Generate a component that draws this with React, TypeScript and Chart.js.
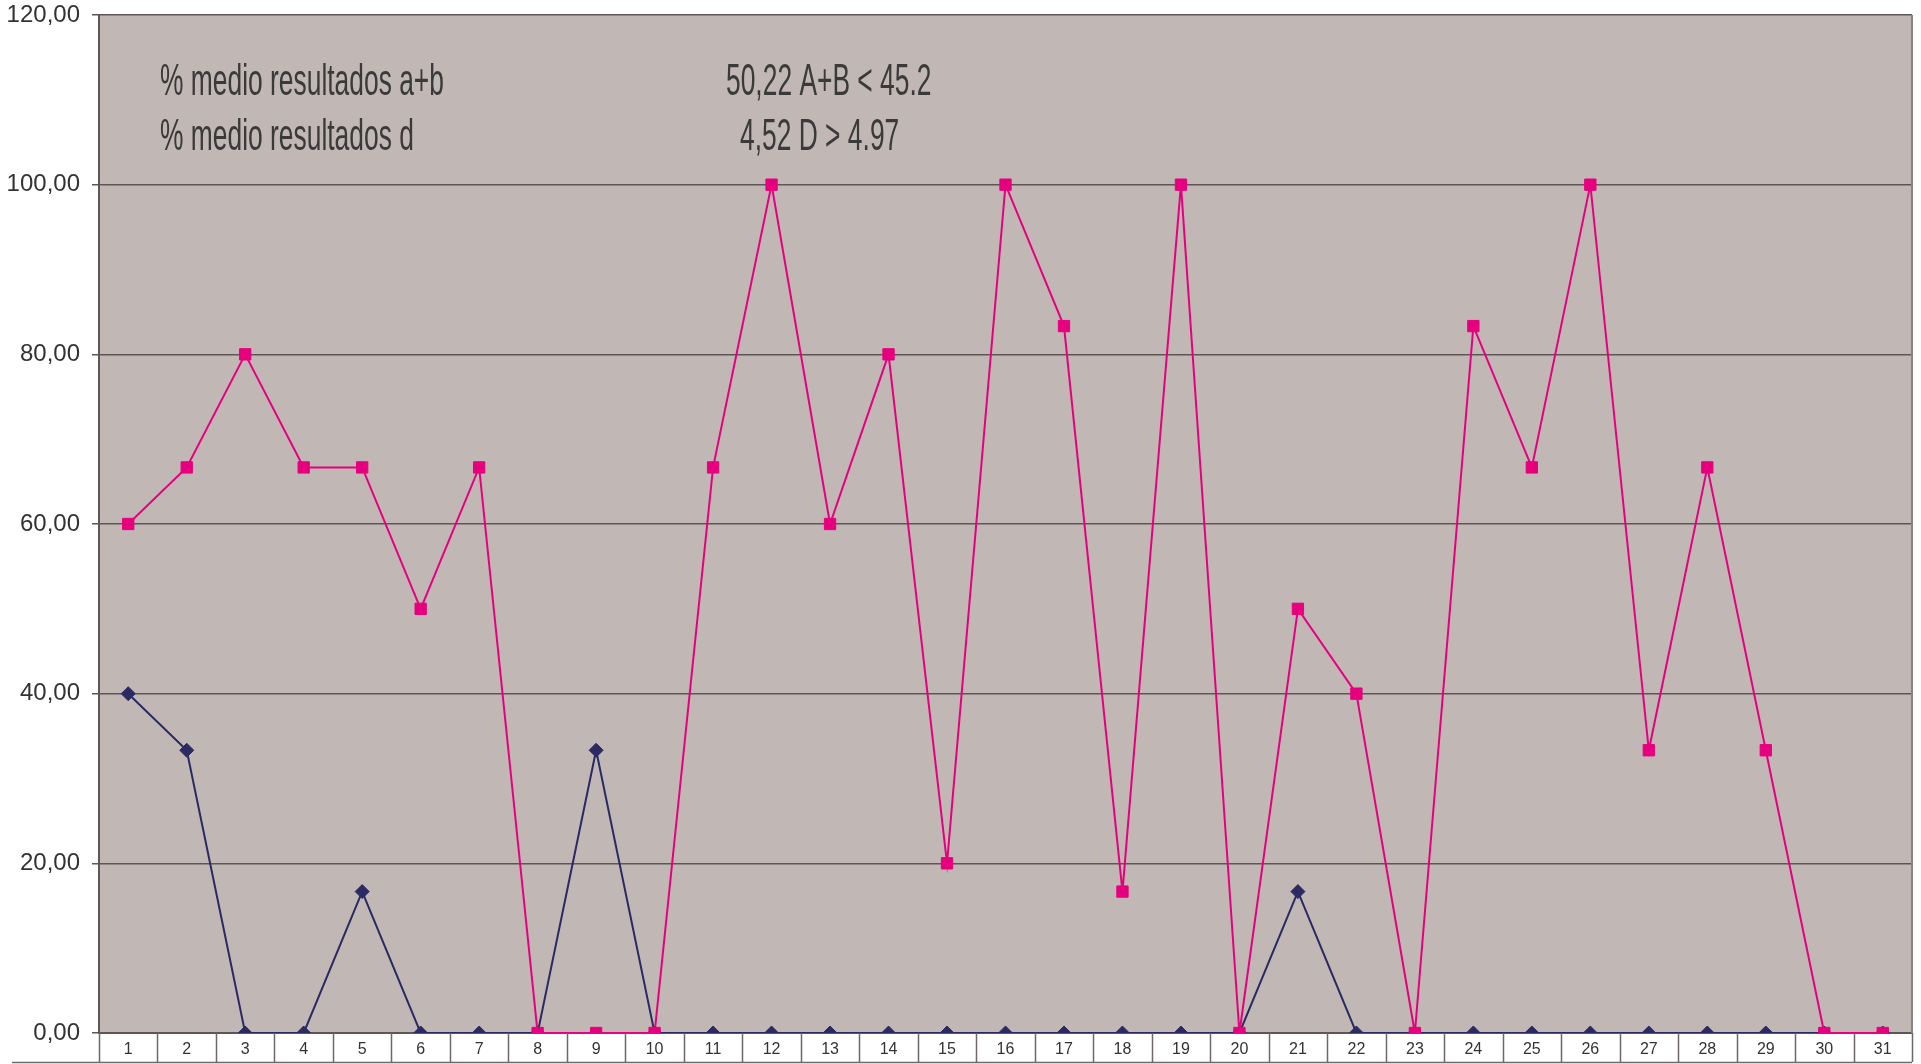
import React, { useEffect, useRef } from "react";
import { Chart, registerables } from "chart.js";

Chart.register(...registerables);

const categories = Array.from({ length: 31 }, (_, i) => String(i + 1));
const seriesAB = [60, 66.67, 80, 66.67, 66.67, 50, 66.67, 0, 0, 0, 66.67, 100, 60, 80, 20, 100, 83.33, 16.67, 100, 0, 50, 40, 0, 83.33, 66.67, 100, 33.33, 66.67, 33.33, 0, 0];
const seriesD = [40, 33.33, 0, 0, 16.67, 0, 0, 0, 33.33, 0, 0, 0, 0, 0, 0, 0, 0, 0, 0, 0, 16.67, 0, 0, 0, 0, 0, 0, 0, 0, 0, 0];
const annotLabels = ["% medio resultados a+b", "% medio resultados d"];
const annotValues = ["50,22 A+B < 45.2", "4,52 D > 4.97"];

const PLOT_BG = "#c1b8b5";
const GRID = "#5e5656";

const decorPlugin = {
  id: "decor",
  beforeDraw(chart: any) {
    const { ctx, chartArea } = chart;
    ctx.save();
    ctx.fillStyle = PLOT_BG;
    ctx.fillRect(chartArea.left, chartArea.top, chartArea.right - chartArea.left, chartArea.bottom - chartArea.top);
    ctx.restore();
  },
  afterDraw(chart: any) {
    const { ctx, chartArea } = chart;
    const xs = chart.scales.x;
    const tableBottom = 1062;
    ctx.save();
    ctx.strokeStyle = "#8c8282";
    ctx.lineWidth = 2;
    ctx.beginPath();
    ctx.moveTo(chartArea.right, chartArea.top);
    ctx.lineTo(chartArea.right, chartArea.bottom);
    ctx.stroke();
    ctx.strokeStyle = "#6e6868";
    ctx.lineWidth = 1.5;
    const n = categories.length;
    const w = xs.getPixelForValue(1) - xs.getPixelForValue(0);
    ctx.beginPath();
    for (let i = 0; i <= n; i++) {
      const x = xs.getPixelForValue(0) - w / 2 + i * w;
      ctx.moveTo(Math.round(x) + 0.5, chartArea.bottom);
      ctx.lineTo(Math.round(x) + 0.5, tableBottom);
    }
    ctx.moveTo(12, tableBottom + 0.5);
    ctx.lineTo(chartArea.right, tableBottom + 0.5);
    ctx.stroke();
    ctx.fillStyle = "#3a3a3a";
    ctx.font = "44px 'Liberation Sans', Arial, sans-serif";
    ctx.textBaseline = "alphabetic";
    const sx = 0.6;
    const rows = [95, 150];
    const lx = [160, 160];
    const vx = [726, 740];
    for (let r = 0; r < 2; r++) {
      ctx.save();
      ctx.translate(lx[r], rows[r]);
      ctx.scale(sx, 1);
      ctx.fillText(annotLabels[r], 0, 0);
      ctx.restore();
      ctx.save();
      ctx.translate(vx[r], rows[r]);
      ctx.scale(sx, 1);
      ctx.fillText(annotValues[r], 0, 0);
      ctx.restore();
    }
    ctx.restore();
  },
};

export default function App() {
  const ref = useRef<HTMLCanvasElement | null>(null);
  useEffect(() => {
    if (!ref.current) return;
    const chart = new Chart(ref.current, {
      type: "line",
      data: {
        labels: categories,
        datasets: [
          {
            label: "d",
            data: seriesD,
            borderColor: "#2b2a63",
            backgroundColor: "#2b2a63",
            borderWidth: 2,
            pointStyle: "rectRot",
            pointRadius: 7,
            pointBorderWidth: 1,
            tension: 0,
            order: 2,
          },
          {
            label: "a+b",
            data: seriesAB,
            borderColor: "#e6007e",
            backgroundColor: "#e6007e",
            borderWidth: 2,
            pointStyle: "rect",
            pointRadius: 8,
            pointBorderWidth: 1,
            tension: 0,
            order: 1,
          },
        ],
      },
      options: {
        animation: false,
        responsive: false,
        maintainAspectRatio: false,
        layout: { padding: { top: 15, right: 6, left: 0, bottom: 0 } },
        plugins: { legend: { display: false }, tooltip: { enabled: false } },
        scales: {
          x: {
            type: "category",
            offset: true,
            grid: { display: false, drawTicks: false },
            border: { display: true, color: GRID, width: 2 },
            ticks: {
              padding: 7,
              color: "#333",
              font: { size: 16, family: "'Liberation Sans', Arial, sans-serif" },
              maxRotation: 0,
              autoSkip: false,
            },
            afterFit(scale: any) {
              scale.height = 31;
              scale.paddingLeft = 0;
              scale.paddingRight = 0;
            },
          },
          y: {
            min: 0,
            max: 120,
            ticks: {
              stepSize: 20,
              padding: 12,
              color: "#333",
              font: { size: 24, family: "'Liberation Sans', Arial, sans-serif" },
              callback: (v: any) => Number(v).toFixed(2).replace(".", ","),
            },
            grid: { color: GRID, lineWidth: 1.5, drawTicks: true, tickLength: 7 },
            border: { display: true, color: GRID, width: 2 },
            afterFit(scale: any) {
              scale.width = 99;
              scale.paddingTop = 0;
              scale.paddingBottom = 0;
            },
          },
        },
      },
      plugins: [decorPlugin],
    });
    return () => chart.destroy();
  }, []);
  return (
    <div style={{ position: "fixed", left: 0, top: 0, width: 1921, height: 1064, background: "#fff" }}>
      <canvas ref={ref} width={1921} height={1064} style={{ width: 1921, height: 1064 }} />
    </div>
  );
}
